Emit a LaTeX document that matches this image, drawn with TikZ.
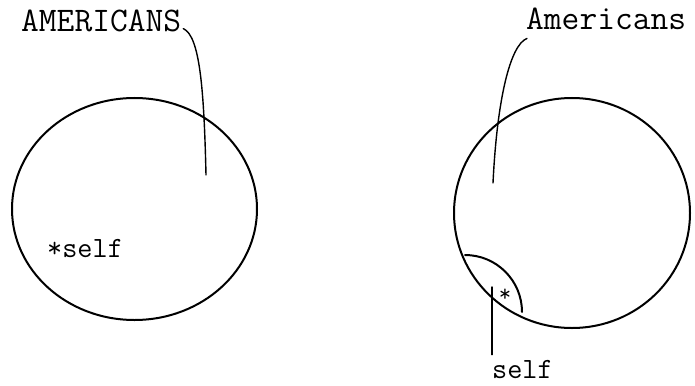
\documentclass[tikz,border=0pt]{standalone}
\usepackage{fontspec}

\begin{document}
\begin{tikzpicture}[x=1pt,y=-1pt,line cap=round,line join=round,
  every node/.style={inner sep=0pt},
  big/.style={font=\ttfamily\fontsize{34.5}{36}\selectfont},
  small/.style={font=\ttfamily\fontsize{29.4}{31}\selectfont},
  rim/.style={line width=2pt},
  lead/.style={line width=1.4pt}]
  \useasboundingbox (0,0) rectangle (695,385);
  % left: self inside
  \draw[rim] (134.5,209) ellipse (122.5pt and 111pt);
  \node[big,anchor=base west] (ameA) at (21,32) {AMERICANS};
  \node[small,anchor=base west] (selfA) at (47,257) {*self};
  \coordinate (endA) at (206,175);
  \draw[lead] ([shift={(2,-4)}]ameA.south east) .. controls (200,36) and (204,90) .. (endA);
  % right: self on the border
  \draw[rim] (572,213) ellipse (118pt and 115pt);
  \draw[rim] (465,255) arc[start angle=90,end angle=0,radius=57pt];
  \node[big,anchor=base west] (ameB) at (526,30) {Americans};
  \node[small,anchor=base west] (selfB) at (492,378) {self};
  \node[font=\ttfamily\fontsize{24}{26}\selectfont] (star) at (505,295) {*};
  \coordinate (endB) at (493,183);
  \coordinate (topB) at (492,287);
  \draw[lead] ([shift={(1,8)}]ameB.south west) .. controls (510,45) and (497,100) .. (endB);
  \draw[lead] ([shift={(0,-5)}]selfB.north west) -- (topB);
\end{tikzpicture}
\end{document}
